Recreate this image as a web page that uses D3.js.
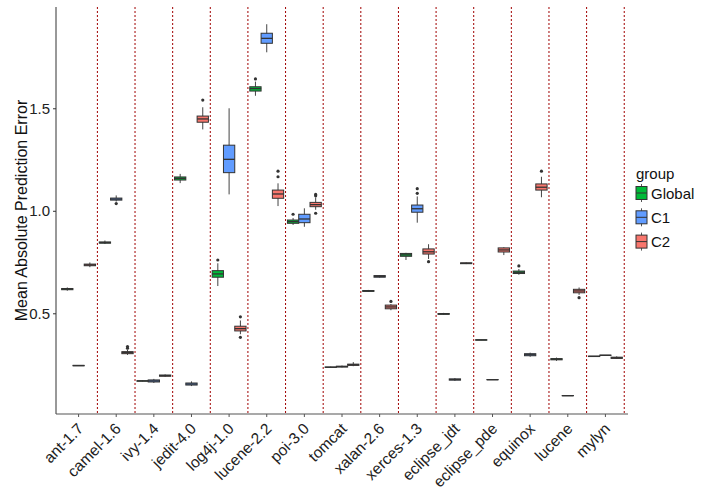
<!DOCTYPE html>
<html><head><meta charset="utf-8">
<script src="https://cdn.jsdelivr.net/npm/d3@7"></script>
<style>body{margin:0;background:#fff;} text{font-family:"Liberation Sans",Arial,Helvetica,sans-serif;}</style>
</head><body>
<svg id="chart" width="716" height="489"></svg>
<script>
const categories = ["ant-1.7","camel-1.6","ivy-1.4","jedit-4.0","log4j-1.0","lucene-2.2","poi-3.0","tomcat","xalan-2.6","xerces-1.3","eclipse_jdt","eclipse_pde","equinox","lucene","mylyn"];
const groups = ["Global","C1","C2"];
const groupColors = ["#00BA38","#619CFF","#F8766D"];
const yTicks = [0.5, 1.0, 1.5];

// [lower whisker, q1, median, q3, upper whisker]
const globalStats = [
  [0.610,0.615,0.618,0.621,0.626],[0.838,0.842,0.845,0.848,0.855],[0.168,0.169,0.170,0.171,0.172],
  [1.135,1.150,1.158,1.165,1.180],[0.633,0.676,0.692,0.708,0.744],[1.561,1.584,1.596,1.605,1.630],
  [0.931,0.939,0.947,0.955,0.965],[0.235,0.236,0.237,0.238,0.240],[0.605,0.607,0.609,0.611,0.614],
  [0.760,0.778,0.785,0.792,0.795],[0.493,0.495,0.497,0.499,0.502],[0.369,0.369,0.370,0.371,0.371],
  [0.688,0.694,0.700,0.706,0.716],[0.268,0.273,0.276,0.279,0.284],[0.289,0.289,0.290,0.291,0.291]
];
const c1Stats = [
  [0.243,0.244,0.245,0.246,0.247],[1.045,1.052,1.057,1.062,1.075],[0.160,0.165,0.170,0.175,0.180],
  [0.145,0.150,0.155,0.160,0.168],[1.080,1.186,1.251,1.320,1.500],[1.773,1.817,1.841,1.866,1.910],
  [0.922,0.942,0.960,0.983,1.012],[0.236,0.238,0.240,0.242,0.245],[0.674,0.676,0.680,0.684,0.686],
  [0.942,0.993,1.010,1.028,1.070],[0.170,0.174,0.177,0.180,0.184],[0.175,0.176,0.176,0.177,0.177],
  [0.288,0.293,0.298,0.303,0.308],[0.097,0.098,0.098,0.099,0.099],[0.294,0.295,0.295,0.296,0.296]
];
const c2Stats = [
  [0.725,0.732,0.736,0.740,0.748],[0.297,0.303,0.308,0.313,0.322],[0.190,0.193,0.196,0.199,0.202],
  [1.397,1.432,1.448,1.462,1.505],[0.398,0.414,0.425,0.437,0.465],[1.023,1.061,1.082,1.101,1.134],
  [1.005,1.020,1.030,1.041,1.065],[0.242,0.246,0.249,0.252,0.262],[0.515,0.522,0.531,0.540,0.545],
  [0.765,0.789,0.800,0.814,0.837],[0.740,0.742,0.744,0.746,0.748],[0.784,0.799,0.809,0.819,0.822],
  [1.066,1.101,1.115,1.131,1.166],[0.590,0.600,0.609,0.617,0.626],[0.277,0.280,0.283,0.286,0.290]
];
const globalOutliers = [[],[],[],[],[0.760],[1.643],[0.983],[],[],[],[],[],[0.731],[],[]];
const c1Outliers = [[],[1.035],[],[],[],[],[],[],[],[1.085,1.108],[],[],[],[],[]];
const c2Outliers = [[],[0.330,0.338],[],[1.540],[0.383,0.483],[1.166,1.193],[0.988,1.073,1.080],[],[0.558],[0.752],[],[],[1.193],[0.576],[]];

const statsByGroup = [globalStats, c1Stats, c2Stats];
const outByGroup = [globalOutliers, c1Outliers, c2Outliers];

const svg = d3.select("#chart");
const pLeft = 56, pRight = 628, pTop = 7, pBottom = 414;

const x = d3.scaleBand().domain(categories).range([pLeft, pRight]).paddingInner(0).paddingOuter(0.1);
const step = x.step();
const x1 = d3.scaleBand().domain(groups).range([0.05*step, 0.95*step]).padding(0);
const y = d3.scaleLinear().domain([0.0088, 1.994]).range([pBottom, pTop]);
const color = d3.scaleOrdinal().domain(groups).range(groupColors);

// dotted separators
svg.append("g").selectAll("line").data(categories).join("line")
  .attr("x1", d => x(d) + step).attr("x2", d => x(d) + step)
  .attr("y1", pTop).attr("y2", pBottom)
  .attr("stroke", "#a00000").attr("stroke-width", 1).attr("stroke-dasharray", "2,2");

// boxes
const rows = [];
groups.forEach((g, gi) => categories.forEach((c, ci) => rows.push({g, c, s: statsByGroup[gi][ci], o: outByGroup[gi][ci]})));

const bg = svg.append("g").selectAll("g").data(rows).join("g")
  .attr("transform", d => `translate(${x(d.c) + x1(d.g)},0)`);
const bw = x1.bandwidth();
bg.append("line").attr("x1", bw/2).attr("x2", bw/2)
  .attr("y1", d => y(d.s[0])).attr("y2", d => y(d.s[4]))
  .attr("stroke", "#444").attr("stroke-width", 1);
bg.append("rect").attr("x", 0).attr("width", bw)
  .attr("y", d => y(d.s[3])).attr("height", d => Math.max(0.01, y(d.s[1]) - y(d.s[3])))
  .attr("fill", d => color(d.g)).attr("stroke", "#333").attr("stroke-width", 1);
bg.append("line").attr("x1", 0).attr("x2", bw)
  .attr("y1", d => y(d.s[2])).attr("y2", d => y(d.s[2]))
  .attr("stroke", "#333").attr("stroke-width", 1.3);
bg.selectAll("circle").data(d => d.o).join("circle")
  .attr("cx", bw/2).attr("cy", v => y(v)).attr("r", 1.6).attr("fill", "#333");

// axes
const yAxis = d3.axisLeft(y).tickValues(yTicks).tickFormat(d3.format(".1f")).tickSize(3).tickPadding(3);
const gy = svg.append("g").attr("transform", `translate(${pLeft},0)`).call(yAxis);
gy.select(".domain").attr("stroke", "#333").attr("d", `M0,${pTop}V${pBottom}`);
gy.selectAll(".tick line").attr("stroke", "#333");
gy.selectAll(".tick text").attr("font-size", 15).attr("fill", "#222").style("font-family", '"Liberation Sans",Arial,sans-serif');

const xAxis = d3.axisBottom(x).tickSize(3).tickPadding(2);
const gx = svg.append("g").attr("transform", `translate(0,${pBottom})`).call(xAxis);
gx.select(".domain").attr("stroke", "#555").attr("stroke-width", 1.2).attr("d", `M${pLeft},0H${pRight}`);
gx.selectAll(".tick line").attr("stroke", "#555");
gx.selectAll(".tick text").attr("font-size", 15.5).attr("fill", "#222")
  .style("font-family", '"Liberation Sans",Arial,sans-serif')
  .attr("text-anchor", "end").attr("dy", "0.75em")
  .attr("transform", "translate(-6,4) rotate(-45)");

svg.append("text").attr("transform", `translate(27,${(pTop+pBottom)/2}) rotate(-90)`)
  .attr("text-anchor", "middle").attr("font-size", 16).attr("fill", "#111")
  .text("Mean Absolute Prediction Error");

// legend
const lg = svg.append("g").attr("transform", "translate(636,0)");
lg.append("text").attr("x", 0).attr("y", 179).attr("font-size", 15).attr("fill", "#111").text("group");
const items = lg.selectAll("g.item").data(groups).join("g").attr("class", "item")
  .attr("transform", (d, i) => `translate(0,${193 + i*24.3})`);
items.append("line").attr("x1", 5.5).attr("x2", 5.5).attr("y1", -9).attr("y2", 9).attr("stroke", "#555");
items.append("rect").attr("x", 0).attr("y", -6.5).attr("width", 11).attr("height", 13)
  .attr("fill", d => color(d)).attr("stroke", "#333");
items.append("line").attr("x1", 0).attr("x2", 11).attr("y1", 0).attr("y2", 0).attr("stroke", "#333");
items.append("text").attr("x", 15).attr("y", 5.5).attr("font-size", 15).attr("fill", "#111").text(d => d);
</script>
</body></html>
